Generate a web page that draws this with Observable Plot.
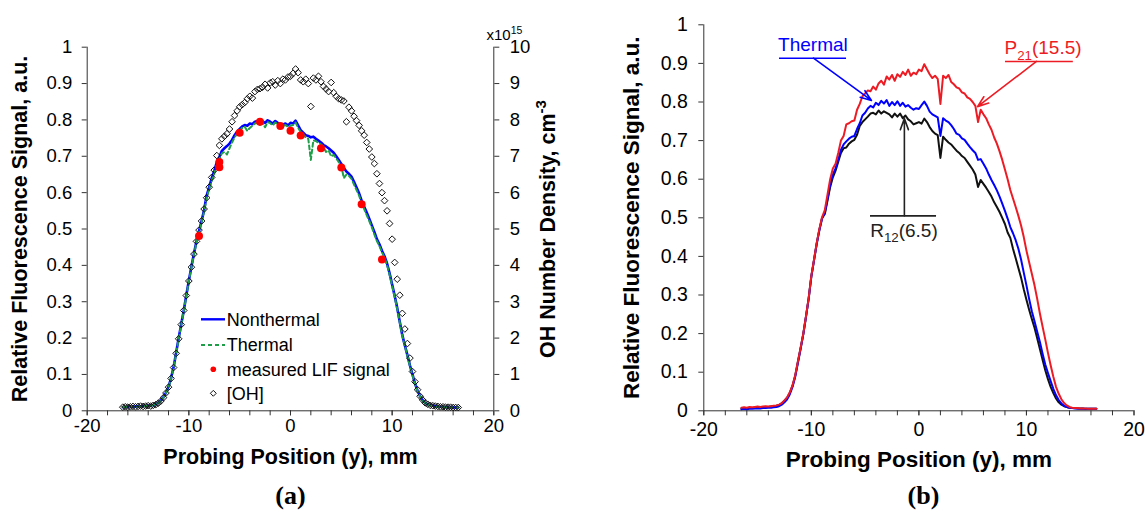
<!DOCTYPE html>
<html><head><meta charset="utf-8">
<script src="https://cdn.jsdelivr.net/npm/d3@7"></script>
<script src="https://cdn.jsdelivr.net/npm/@observablehq/plot@0.6"></script>
<style>
body{margin:0;background:#fff;}
#wrap{position:relative;width:1145px;height:516px;overflow:hidden;background:#fff;}
#wrap svg{position:absolute;top:0;}
</style></head><body><div id="wrap"></div>
<script>
// sampling grid of probing positions (mm), step 0.25 from -16.5 to 16.5
const positions = d3.range(133).map(i => -16.5 + i * 0.25);

// ---- panel (a) ----
const nonthermal = [
0.010,0.011,
0.010,0.012,0.011,0.012, 0.013,0.012,0.013,0.014, 0.014,0.015,0.016,0.018,
0.022,0.028,0.037,0.050, 0.066,0.090,0.120,0.160, 0.200,0.238,0.276,0.318,
0.358,0.396,0.432,0.466, 0.494,0.522,0.552,0.592, 0.615,0.640,0.660,0.684,
0.698,0.715,0.722,0.728, 0.735,0.745,0.758,0.768, 0.775,0.782,0.786,0.784,
0.790,0.788,0.795,0.797, 0.801,0.796,0.792,0.799, 0.795,0.790,0.797,0.792,
0.789,0.787,0.790,0.785, 0.792,0.790,0.798,0.785, 0.772,0.765,0.758,0.756,
0.752,0.754,0.748,0.743, 0.738,0.731,0.727,0.722, 0.716,0.710,0.700,0.690,
0.679,0.668,0.658,0.652, 0.644,0.630,0.614,0.598, 0.578,0.561,0.545,0.528,
0.510,0.492,0.472,0.458, 0.440,0.425,0.405,0.378, 0.347,0.316,0.283,0.245,
0.208,0.180,0.153,0.125, 0.100,0.075,0.055,0.040, 0.029,0.022,0.018,0.016,
0.014,0.013,0.012,0.011, 0.011,0.010,0.010,0.010, 0.009,0.009,0.009];
const thermal = [
0.010,0.011,
0.010,0.011,0.011,0.012, 0.012,0.012,0.013,0.013, 0.014,0.014,0.016,0.018,
0.021,0.027,0.036,0.049, 0.065,0.089,0.119,0.158, 0.198,0.236,0.274,0.316,
0.356,0.394,0.430,0.463, 0.490,0.518,0.548,0.585, 0.610,0.632,0.652,0.676,
0.692,0.708,0.712,0.705, 0.722,0.738,0.752,0.762, 0.770,0.778,0.781,0.770,
0.778,0.784,0.790,0.792, 0.786,0.791,0.780,0.794, 0.791,0.785,0.793,0.788,
0.778,0.783,0.786,0.781, 0.784,0.786,0.793,0.778, 0.767,0.760,0.752,0.748,
0.690,0.744,0.742,0.737, 0.733,0.725,0.712,0.716, 0.700,0.704,0.694,0.684,
0.673,0.640,0.650,0.646, 0.638,0.622,0.607,0.592, 0.570,0.555,0.538,0.522,
0.505,0.485,0.467,0.453, 0.436,0.421,0.401,0.374, 0.344,0.313,0.280,0.243,
0.206,0.178,0.151,0.123, 0.098,0.074,0.054,0.039, 0.028,0.021,0.017,0.015,
0.013,0.012,0.011,0.011, 0.010,0.010,0.010,0.009, 0.009,0.009,0.009];
// [OH] number density, units of 1e15 cm^-3
const ohDensity = [
0.10,0.11,
0.10,0.11,0.12,0.11, 0.12,0.13,0.12,0.13, 0.14,0.13,0.15,0.17,
0.21,0.27,0.36,0.49, 0.65,0.89,1.19,1.58, 1.98,2.37,2.76,3.17,
3.57,3.95,4.31,4.66, 4.97,5.22,5.55,5.86, 6.15,6.42,6.62,7.02,
7.30,7.48,7.55,7.62, 7.75,7.95,8.12,8.25, 8.36,8.42,8.48,8.58,
8.65,8.60,8.78,8.84, 8.86,8.90,8.98,8.88, 9.02,9.05,8.96,9.08,
9.00,9.12,9.10,9.18, 9.20,9.28,9.40,9.30, 9.10,9.05,9.12,9.00,
8.37,9.15,9.10,9.20, 9.05,8.92,8.85,8.78, 9.03,8.75,8.65,8.58,
8.55,8.52,7.95,8.35, 8.25,8.10,7.98,7.85, 7.70,7.58,7.38,7.20,
6.98,6.80,6.52,6.25, 6.00,5.78,5.50,5.15, 4.72,4.08,3.62,3.18,
2.68,2.25,1.85,1.45, 1.08,0.80,0.58,0.40, 0.30,0.22,0.18,0.15,
0.14,0.13,0.12,0.11, 0.11,0.10,0.10,0.10, 0.09,0.09,0.09];
const lifX = [-9, -7, -7, -5, -3, -1, 0, 1, 3, 5, 7, 9];
const lifY = [0.481, 0.684, 0.670, 0.765, 0.795, 0.783, 0.770, 0.757, 0.722, 0.669, 0.568, 0.416];

// ---- panel (b) ----
const p21 = [
0.008,0.009,
0.008,0.010,0.009,0.010, 0.011,0.010,0.011,0.012, 0.011,0.012,0.013,0.014,
0.016,0.020,0.027,0.035, 0.048,0.066,0.092,0.128, 0.163,0.200,0.245,0.292,
0.350,0.392,0.435,0.472, 0.502,0.520,0.560,0.600, 0.628,0.640,0.668,0.700,
0.712,0.742,0.745,0.750, 0.752,0.780,0.795,0.815, 0.822,0.830,0.828,0.840,
0.832,0.848,0.855,0.845, 0.866,0.858,0.870,0.855, 0.872,0.865,0.878,0.870,
0.884,0.868,0.876,0.872, 0.884,0.880,0.898,0.885, 0.872,0.862,0.868,0.860,
0.795,0.868,0.862,0.870, 0.852,0.846,0.838,0.835, 0.825,0.822,0.812,0.808,
0.800,0.790,0.748,0.780, 0.768,0.758,0.742,0.728, 0.708,0.692,0.672,0.650,
0.625,0.600,0.572,0.550, 0.528,0.505,0.480,0.450, 0.415,0.385,0.355,0.325,
0.290,0.252,0.218,0.185, 0.150,0.118,0.088,0.062, 0.044,0.030,0.020,0.014,
0.010,0.008,0.007,0.007, 0.006,0.006,0.006,0.005, 0.005,0.005,0.005];
const thermalB = [
0.004,0.005,
0.004,0.005,0.005,0.006, 0.006,0.006,0.007,0.007, 0.008,0.008,0.009,0.010,
0.012,0.016,0.022,0.030, 0.043,0.062,0.088,0.124, 0.160,0.198,0.243,0.290,
0.348,0.390,0.432,0.468, 0.498,0.512,0.548,0.585, 0.612,0.628,0.650,0.676,
0.690,0.698,0.705,0.710, 0.712,0.730,0.745,0.765, 0.772,0.783,0.790,0.786,
0.798,0.792,0.803,0.796, 0.805,0.790,0.800,0.792, 0.802,0.790,0.798,0.788,
0.792,0.785,0.780,0.784, 0.782,0.792,0.801,0.790, 0.775,0.768,0.764,0.760,
0.712,0.758,0.752,0.748, 0.740,0.730,0.718,0.715, 0.706,0.702,0.692,0.683,
0.675,0.668,0.650,0.652, 0.640,0.628,0.612,0.598, 0.585,0.571,0.555,0.537,
0.518,0.498,0.476,0.460, 0.442,0.420,0.392,0.358, 0.325,0.290,0.258,0.232,
0.205,0.178,0.148,0.120, 0.098,0.077,0.057,0.040, 0.028,0.019,0.013,0.010,
0.008,0.007,0.006,0.006, 0.005,0.005,0.005,0.005, 0.005,0.005,0.005];
const r12 = [
0.006,0.007,
0.006,0.007,0.007,0.008, 0.008,0.009,0.009,0.010, 0.010,0.011,0.012,0.013,
0.015,0.019,0.026,0.034, 0.047,0.065,0.091,0.127, 0.162,0.199,0.244,0.291,
0.349,0.391,0.434,0.470, 0.500,0.510,0.545,0.580, 0.605,0.622,0.645,0.668,
0.680,0.682,0.692,0.698, 0.702,0.715,0.738,0.748, 0.755,0.762,0.770,0.772,
0.768,0.778,0.770,0.776, 0.772,0.768,0.760,0.770, 0.762,0.770,0.758,0.765,
0.755,0.750,0.742,0.745, 0.748,0.744,0.757,0.748, 0.735,0.725,0.718,0.714,
0.655,0.710,0.702,0.695, 0.690,0.682,0.674,0.668, 0.660,0.655,0.645,0.635,
0.625,0.612,0.580,0.598, 0.588,0.578,0.567,0.555, 0.540,0.528,0.515,0.500,
0.484,0.462,0.448,0.420, 0.395,0.370,0.345,0.315, 0.288,0.262,0.238,0.215,
0.188,0.160,0.132,0.105, 0.082,0.062,0.046,0.032, 0.022,0.016,0.012,0.010,
0.008,0.007,0.007,0.006, 0.006,0.006,0.005,0.005, 0.005,0.005,0.005];

// ticks
const yTicks = [0, 0.1, 0.2, 0.3, 0.4, 0.5, 0.6, 0.7, 0.8, 0.9, 1];
const yTickLabels = ["0","0.1","0.2","0.3","0.4","0.5","0.6","0.7","0.8","0.9","1"];
const y2TickLabels = ["0","1","2","3","4","5","6","7","8","9","10"];
const xMajor = [-20, -10, 0, 10, 20];
const xMinor = [-20,-18,-16,-14,-12,-10,-8,-6,-4,-2,0,2,4,6,8,10,12,14,16,18,20];

// annotations (panel b)
const annoText = [
  {x: -9.85, y: 0.949, label: "Thermal", color: "#0000ff"},
  {x: 11.54, y: 0.939, label: "P_{21}(15.5)", color: "#ed1c24"},
  {x: -1.39, y: 0.467, label: "R_{12}(6.5)", color: "#222222"}];
const annoRule = [
  {x1: -12.96, x2: -6.73, y: 0.9135, color: "#0000ff"},
  {x1: 8.05, x2: 14.36, y: 0.905, color: "#ed1c24"},
  {x1: -4.5, x2: 1.64, y: 0.505, color: "#222222"}];
const annoArrow = [
  {x1: -9.8, y1: 0.9135, x2: -4.41, y2: 0.804, color: "#0000ff"},
  {x1: 10.93, y1: 0.905, x2: 5.45, y2: 0.788, color: "#ed1c24"},
  {x1: -1.35, y1: 0.505, x2: -1.35, y2: 0.757, color: "#222222"}];

const legendLabels = ["Nonthermal", "Thermal", "measured LIF signal", "[OH]"];

const FONT = "Liberation Sans, Arial, sans-serif";
const SERIF = "Liberation Serif, Times New Roman, serif";
const AX = "#333";

const tableA = positions.map((x, i) => ({x, nonthermal: nonthermal[i], thermal: thermal[i], oh: ohDensity[i]}));
const lif = lifX.map((x, i) => ({x, v: lifY[i]}));
const tableB = positions.map((x, i) => ({x, p21: p21[i], thermal: thermalB[i], r12: r12[i]}));
const fmtL = d => yTickLabels[yTicks.findIndex(t => Math.abs(t - d) < 1e-9)];
const fmtR = d => y2TickLabels[yTicks.findIndex(t => Math.abs(t - d) < 1e-9)];

const plotA = Plot.plot({
  width: 580, height: 516,
  marginLeft: 86.7, marginRight: 86.7, marginTop: 46.7, marginBottom: 105.7,
  x: {domain: [-20, 20]},
  y: {domain: [0, 1]},
  style: {fontFamily: FONT, fontSize: "18.5px", color: "#000", background: "transparent", overflow: "visible"},
  marks: [
    Plot.axisX({ticks: xMinor, tickFormat: () => "", tickSize: 5, stroke: AX, label: null}),
    Plot.axisX({ticks: xMajor, tickFormat: d => String(d), tickSize: 5, tickPadding: 3, stroke: AX, fill: "#000", label: null, fontSize: 18.5}),
    Plot.axisY({ticks: yTicks, tickFormat: fmtL, tickSize: 5, tickPadding: 10, stroke: AX, fill: "#000", label: null, fontSize: 18.5}),
    Plot.axisY({anchor: "right", ticks: yTicks, tickFormat: fmtR, tickSize: 5, tickPadding: 11, stroke: AX, fill: "#000", label: null, fontSize: 18.5}),
    Plot.ruleX([-20, 20], {stroke: AX}),
    Plot.ruleY([0], {stroke: AX}),
    Plot.line(tableA, {x: "x", y: "nonthermal", stroke: "#0000ff", strokeWidth: 2.6}),
    Plot.line(tableA, {x: "x", y: "thermal", stroke: "#1f9e48", strokeWidth: 2, strokeDasharray: "4,3"}),
    Plot.dot(tableA, {x: "x", y: d => d.oh / 10, symbol: "diamond2", r: 3, stroke: "#111", strokeWidth: 1, fill: "none"}),
    Plot.dot(lif, {x: "x", y: "v", r: 4, fill: "#ff0000", stroke: "none"}),
    Plot.text(["Relative Fluorescence Signal, a.u."], {frameAnchor: "left", textAnchor: "middle", rotate: -90, dx: -67.4, fontWeight: "bold", fontSize: 21.5}),
    Plot.text(["OH Number Density, cm^{-3}"], {frameAnchor: "right", textAnchor: "middle", rotate: -90, dx: 54.7, fontWeight: "bold", fontSize: 21.5}),
    Plot.text(["Probing Position (y), mm"], {frameAnchor: "bottom", dy: 53, fontWeight: "bold", fontSize: 21.5}),
    Plot.text(["(a)"], {frameAnchor: "bottom", dy: 93, fontFamily: SERIF, fontWeight: "bold", fontSize: 26}),
    Plot.text(["x10^{15}"], {frameAnchor: "top-right", textAnchor: "start", dx: -7.3, dy: -18, fontSize: 15})
  ]
});

const plotB = Plot.plot({
  width: 565, height: 516,
  marginLeft: 123.3, marginRight: 11.5, marginTop: 24.3, marginBottom: 105.7,
  x: {domain: [-20, 20]},
  y: {domain: [0, 1]},
  color: {type: "identity"},
  style: {fontFamily: FONT, fontSize: "19.5px", color: "#000", background: "transparent", overflow: "visible"},
  marks: [
    Plot.axisX({ticks: xMinor, tickFormat: () => "", tickSize: 5, stroke: AX, label: null}),
    Plot.axisX({ticks: xMajor, tickFormat: d => String(d), tickSize: 5, tickPadding: 6, stroke: AX, fill: "#000", label: null, fontSize: 19.5}),
    Plot.axisY({ticks: yTicks, tickFormat: fmtL, tickSize: 5, tickPadding: 11, stroke: AX, fill: "#000", label: null, fontSize: 19.5}),
    Plot.ruleX([-20], {stroke: AX}),
    Plot.ruleY([0], {stroke: AX}),
    Plot.line(tableB, {x: "x", y: "r12", stroke: "#111111", strokeWidth: 2}),
    Plot.line(tableB, {x: "x", y: "thermal", stroke: "#0000ff", strokeWidth: 2}),
    Plot.line(tableB, {x: "x", y: "p21", stroke: "#ed1c24", strokeWidth: 2}),
    Plot.ruleY(annoRule, {y: "y", x1: "x1", x2: "x2", stroke: "color", strokeWidth: 1.6}),
    Plot.arrow(annoArrow, {x1: "x1", y1: "y1", x2: "x2", y2: "y2", stroke: "color", strokeWidth: 1.6, headLength: 11, headAngle: 40}),
    Plot.text(annoText, {x: "x", y: "y", text: "label", fill: "color", fontSize: 19}),
    Plot.text(["Relative Fluorescence Signal, a.u."], {frameAnchor: "left", textAnchor: "middle", rotate: -90, dx: -72.3, fontWeight: "bold", fontSize: 22.5}),
    Plot.text(["Probing Position (y), mm"], {frameAnchor: "bottom", dy: 56.4, fontWeight: "bold", fontSize: 22.5}),
    Plot.text(["(b)"], {frameAnchor: "bottom", dx: 4.6, dy: 93, fontFamily: SERIF, fontWeight: "bold", fontSize: 26})
  ]
});

const wrap = document.getElementById("wrap");
plotA.style.left = "0px";
plotB.style.left = "580px";
wrap.appendChild(plotA);
wrap.appendChild(plotB);

// sub/superscript markup: _{..} and ^{..}
function richText(svg) {
  const ns = "http://www.w3.org/2000/svg";
  svg.querySelectorAll("text").forEach(t => {
    const s = t.textContent;
    if (!/[_^]\{/.test(s)) return;
    const fs = parseFloat(getComputedStyle(t).fontSize) || 18;
    t.textContent = "";
    const re = /([_^])\{([^}]*)\}/g;
    let last = 0, m, cur = 0;
    const add = (txt, target, small) => {
      const ts = document.createElementNS(ns, "tspan");
      ts.textContent = txt;
      const dy = target - cur;
      if (dy) ts.setAttribute("dy", dy.toFixed(2));
      if (small) ts.setAttribute("font-size", (fs * 0.7).toFixed(2));
      cur = target;
      t.appendChild(ts);
    };
    while ((m = re.exec(s))) {
      if (m.index > last) add(s.slice(last, m.index), 0, false);
      add(m[2], m[1] === "_" ? fs * 0.28 : -fs * 0.42, true);
      last = re.lastIndex;
    }
    if (last < s.length) add(s.slice(last), 0, false);
  });
}
richText(plotA);
richText(plotB);

// legend for panel (a)
const rowsY = [319.3, 345, 369.3, 393.3];
const lg = d3.select(plotA).append("g").attr("font-family", FONT).attr("font-size", 18).attr("text-anchor", "start");
lg.append("line").attr("x1", 201).attr("x2", 225).attr("y1", rowsY[0]).attr("y2", rowsY[0]).attr("stroke", "#0000ff").attr("stroke-width", 2.4);
lg.append("line").attr("x1", 201).attr("x2", 225).attr("y1", rowsY[1]).attr("y2", rowsY[1]).attr("stroke", "#1f9e48").attr("stroke-width", 1.8).attr("stroke-dasharray", "4,3");
lg.append("circle").attr("cx", 213.3).attr("cy", rowsY[2]).attr("r", 2.8).attr("fill", "#ff0000");
lg.append("path").attr("transform", `translate(213.3,${rowsY[3]})`).attr("d", d3.symbol(d3.symbolDiamond2, 22)()).attr("fill", "none").attr("stroke", "#111");
legendLabels.forEach((lab, i) => {
  lg.append("text").attr("x", 226.7).attr("y", rowsY[i]).attr("dy", "0.35em").attr("text-anchor", "start").attr("fill", "#000").text(lab);
});
</script>
</body></html>
